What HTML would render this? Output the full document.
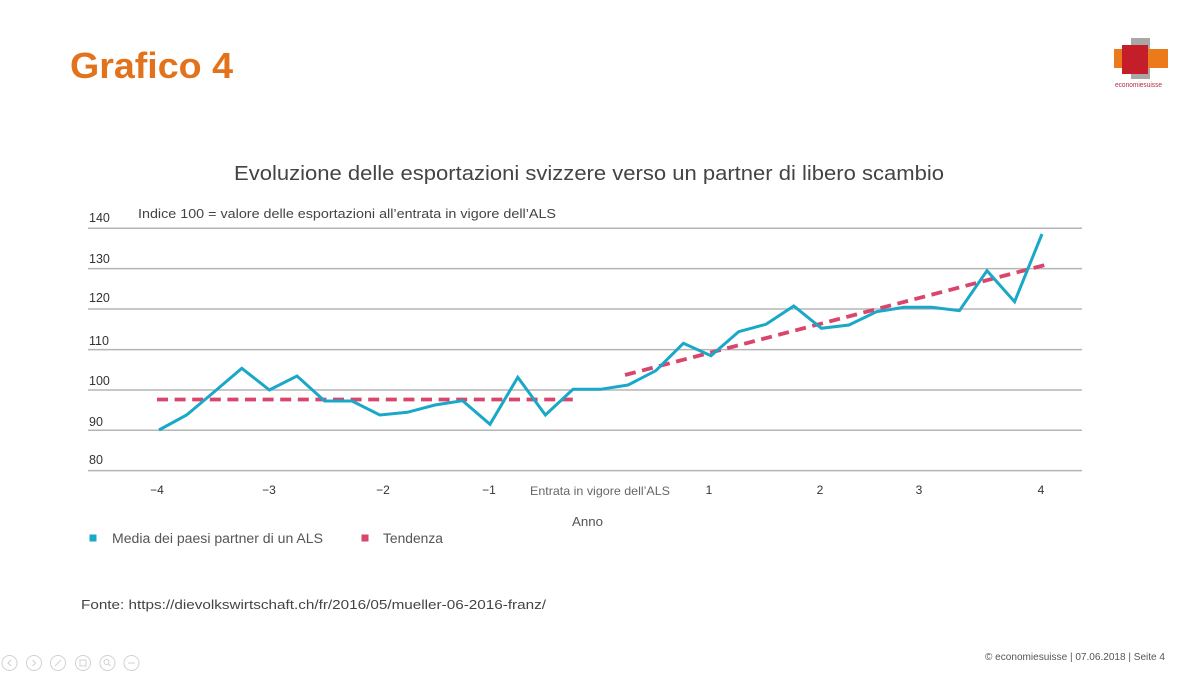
<!DOCTYPE html>
<html>
<head>
<meta charset="utf-8">
<style>
  html, body { margin:0; padding:0; background:#ffffff; }
  body { width:1200px; height:675px; overflow:hidden; }
  svg { display:block; }
  text { font-family: "Liberation Sans", "DejaVu Sans", sans-serif; }
</style>
</head>
<body>
<svg width="1200" height="675" viewBox="0 0 1200 675" xmlns="http://www.w3.org/2000/svg">
  <rect width="1200" height="675" fill="#ffffff"/>

  <!-- Title -->
  <text x="70" y="78" font-size="36" font-weight="bold" fill="#e2731c" textLength="163" lengthAdjust="spacingAndGlyphs">Grafico 4</text>

  <!-- Logo -->
  <rect x="1131" y="38" width="19" height="41" fill="#a8a8a8"/>
  <rect x="1114" y="49" width="54" height="19" fill="#ea7a1a"/>
  <rect x="1122" y="45" width="26" height="29" fill="#c41e2a"/>
  <text x="1115" y="87" font-size="7" fill="#b03040" textLength="47" lengthAdjust="spacingAndGlyphs">economiesuisse</text>

  <!-- Chart title -->
  <text x="234" y="180" font-size="20" fill="#444444" textLength="710" lengthAdjust="spacingAndGlyphs">Evoluzione delle esportazioni svizzere verso un partner di libero scambio</text>
  <text x="138" y="218" font-size="13" fill="#444444" textLength="418" lengthAdjust="spacingAndGlyphs">Indice 100 = valore delle esportazioni all’entrata in vigore dell’ALS</text>

  <!-- Gridlines -->
  <g stroke="#b5b5b5" stroke-width="1.5">
    <line x1="88" y1="228.3" x2="1082" y2="228.3"/>
    <line x1="88" y1="268.6" x2="1082" y2="268.6"/>
    <line x1="88" y1="309" x2="1082" y2="309"/>
    <line x1="88" y1="349.6" x2="1082" y2="349.6"/>
    <line x1="88" y1="390" x2="1082" y2="390"/>
    <line x1="88" y1="430.3" x2="1082" y2="430.3"/>
    <line x1="88" y1="470.6" x2="1082" y2="470.6"/>
  </g>

  <!-- Y labels -->
  <g font-size="12.5" fill="#333333">
    <text x="89" y="222">140</text>
    <text x="89" y="263">130</text>
    <text x="89" y="302">120</text>
    <text x="89" y="345">110</text>
    <text x="89" y="385">100</text>
    <text x="89" y="426">90</text>
    <text x="89" y="464">80</text>
  </g>

  <!-- X labels -->
  <g font-size="12" fill="#333333" text-anchor="middle">
    <text x="157" y="494">−4</text>
    <text x="269" y="494">−3</text>
    <text x="383" y="494">−2</text>
    <text x="489" y="494">−1</text>
    <text x="709" y="494">1</text>
    <text x="820" y="494">2</text>
    <text x="919" y="494">3</text>
    <text x="1041" y="494">4</text>
  </g>
  <text x="530" y="495" font-size="12" fill="#666666" textLength="140" lengthAdjust="spacingAndGlyphs">Entrata in vigore dell’ALS</text>
  <text x="572" y="526" font-size="13" fill="#555555" textLength="31" lengthAdjust="spacingAndGlyphs">Anno</text>

  <!-- Trend lines -->
  <g stroke="#d9456b" stroke-width="3.8" stroke-dasharray="11,6.6" fill="none">
    <line x1="157" y1="399.5" x2="577" y2="399.5"/>
    <line x1="625" y1="375" x2="1045" y2="265"/>
  </g>

  <!-- Data series -->
  <polyline fill="none" stroke="#1aa8c8" stroke-width="3" stroke-linejoin="miter"
    points="159,430 186.6,415 214,392 241.8,368.3 269.4,390 297,376 324.6,401 352,401 379.8,415 407.4,412.3 435,405 462.6,400.7 490,424.3 517.8,377.3 545.4,415 573,389.3 600.6,389.3 628,385 655.8,370.7 683.4,343.3 711,355.7 738.6,331.7 766,324.3 793.8,306 821.4,328.3 849,325 876.6,311.7 904,307.3 931.8,307.3 959.4,310.7 987,270.7 1014.6,301.7 1042,234"/>

  <!-- Legend -->
  <rect x="89.5" y="534.5" width="7" height="7" fill="#1aa8c8"/>
  <text x="112" y="543" font-size="13.5" fill="#555555" textLength="211" lengthAdjust="spacingAndGlyphs">Media dei paesi partner di un ALS</text>
  <rect x="361.5" y="534.5" width="7" height="7" fill="#d9456b"/>
  <text x="383" y="543" font-size="13.5" fill="#555555" textLength="60" lengthAdjust="spacingAndGlyphs">Tendenza</text>

  <!-- Source -->
  <text x="81" y="609" font-size="13" fill="#444444" textLength="465" lengthAdjust="spacingAndGlyphs">Fonte: https://dievolkswirtschaft.ch/fr/2016/05/mueller-06-2016-franz/</text>

  <!-- Footer -->
  <text x="985" y="660" font-size="10" fill="#555555" textLength="180" lengthAdjust="spacingAndGlyphs">© economiesuisse | 07.06.2018 | Seite 4</text>

  <!-- Bottom-left navigation icons -->
  <g fill="none" stroke="#d0d0d0" stroke-width="1">
    <circle cx="9.5" cy="663" r="7.5"/>
    <circle cx="34" cy="663" r="7.5"/>
    <circle cx="58" cy="663" r="7.5"/>
    <circle cx="83" cy="663" r="7.5"/>
    <circle cx="107.5" cy="663" r="7.5"/>
    <circle cx="131.5" cy="663" r="7.5"/>
    <path d="M11,660 L8,663 L11,666"/>
    <path d="M32.5,660 L35.5,663 L32.5,666"/>
    <path d="M55,666 L61,660"/>
    <rect x="80" y="660" width="6" height="6"/>
    <circle cx="106.5" cy="662" r="2.5"/>
    <path d="M108.5,664 L110.5,666"/>
    <path d="M128,663 L135,663"/>
  </g>
</svg>
</body>
</html>
